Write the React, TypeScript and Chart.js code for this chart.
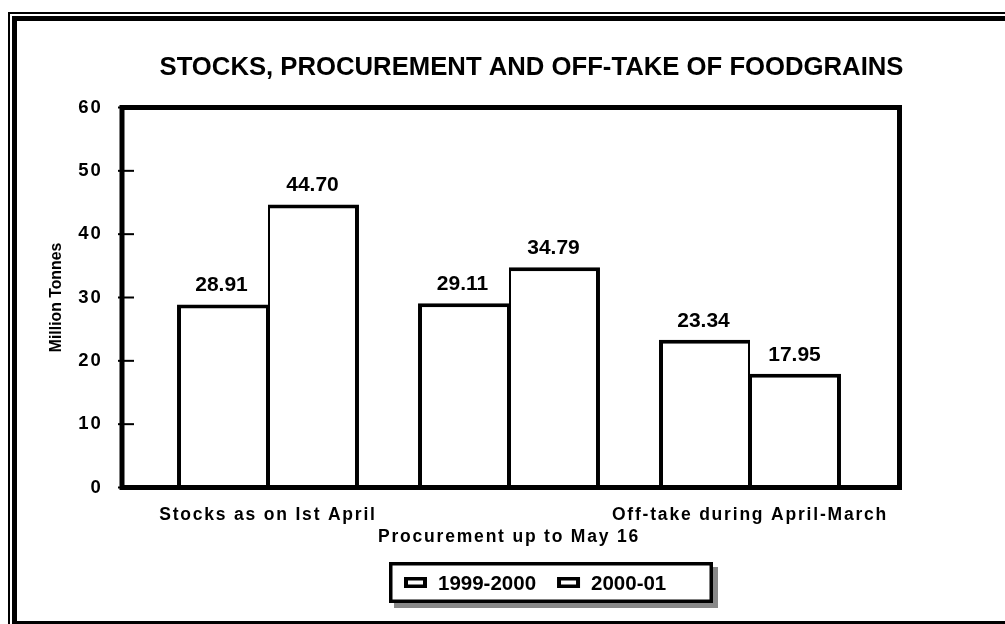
import React, { useEffect, useRef } from "react";
import { Chart, registerables } from "chart.js";

Chart.register(...registerables);

const TITLE = "STOCKS, PROCUREMENT AND OFF-TAKE OF FOODGRAINS";
const Y_TITLE = "Million Tonnes";
const CATEGORIES = [
  "Stocks as on Ist April",
  "Procurement up to May 16",
  "Off-take during April-March",
];
const SERIES_LABELS = ["1999-2000", "2000-01"];
const VALUES_1999 = [28.91, 29.11, 23.34];
const VALUES_2000 = [44.7, 34.79, 17.95];
const Y_MIN = 0;
const Y_MAX = 60;
const Y_STEP = 10;

const FONT = '"Liberation Sans", Arial, sans-serif';

const decorPlugin = {
  id: "decor",
  afterDatasetsDraw(chart: any) {
    const { ctx, chartArea: a } = chart;
    const yScale = chart.scales.y;
    const L = a.left - 25.5;
    const R = a.right + 29;
    const T = a.top;
    const B = a.bottom;
    ctx.save();
    ctx.strokeStyle = "#000";
    ctx.lineWidth = 5;
    ctx.lineJoin = "miter";
    ctx.strokeRect(L, T, R - L, B - T);
    ctx.lineWidth = 2;
    yScale.ticks.forEach((t: any) => {
      const py = yScale.getPixelForValue(t.value);
      ctx.beginPath();
      ctx.moveTo(L - 4, py);
      ctx.lineTo(L + 12, py);
      ctx.stroke();
    });
    ctx.restore();
    // spaced lettering for the axis tick labels drawn next
    ctx.letterSpacing = "1.8px";
  },
  afterDraw(chart: any) {
    const ctx = chart.ctx;
    ctx.letterSpacing = "0px";
    ctx.save();
    ctx.fillStyle = "#000";
    // Title
    ctx.font = `bold 25.7px ${FONT}`;
    ctx.textAlign = "center";
    ctx.textBaseline = "alphabetic";
    ctx.fillText(TITLE, 531.5, 75);

    // Data labels
    ctx.font = `bold 21px ${FONT}`;
    chart.data.datasets.forEach((ds: any, di: number) => {
      const meta = chart.getDatasetMeta(di);
      meta.data.forEach((el: any, i: number) => {
        const v = ds.data[i];
        ctx.fillText(Number(v).toFixed(2), el.x - 1, el.y - 13);
      });
    });

    // Legend
    const bx = 389, by = 562, bw = 324, bh = 41;
    ctx.fillStyle = "#888";
    ctx.fillRect(bx + 5, by + 5, bw, bh);
    ctx.fillStyle = "#fff";
    ctx.fillRect(bx, by, bw, bh);
    ctx.strokeStyle = "#000";
    ctx.lineWidth = 3.5;
    ctx.strokeRect(bx + 1.75, by + 1.75, bw - 3.5, bh - 3.5);

    ctx.font = `bold 20.5px ${FONT}`;
    ctx.textAlign = "left";
    let x = 404;
    chart.data.datasets.forEach((ds: any) => {
      ctx.fillStyle = "#000";
      ctx.fillRect(x, 577, 23, 11);
      ctx.fillStyle = "#fff";
      ctx.fillRect(x + 4, 580.5, 15, 4);
      ctx.fillStyle = "#000";
      const tx = x + 34;
      ctx.fillText(ds.label, tx, 589.5);
      x = tx + ctx.measureText(ds.label).width + 21;
    });
    ctx.restore();
  },
};

export default function App() {
  const canvasRef = useRef<HTMLCanvasElement | null>(null);

  useEffect(() => {
    const canvas = canvasRef.current;
    if (!canvas) return;
    const chart = new Chart(canvas, {
      type: "bar",
      data: {
        labels: CATEGORIES,
        datasets: [
          {
            label: SERIES_LABELS[0],
            data: VALUES_1999,
            backgroundColor: "#fff",
            borderColor: "#000",
            borderWidth: { left: 4, top: 4, right: 2, bottom: 0 },
            borderSkipped: false,
          },
          {
            label: SERIES_LABELS[1],
            data: VALUES_2000,
            backgroundColor: "#fff",
            borderColor: "#000",
            borderWidth: { left: 2, top: 4, right: 4, bottom: 0 },
            borderSkipped: false,
          },
        ],
      },
      options: {
        responsive: false,
        animation: false,
        devicePixelRatio: 1,
        categoryPercentage: 0.755,
        barPercentage: 1,
        layout: { padding: { left: 47.5, right: 134.5, top: 107.5, bottom: 56.5 } },
        plugins: {
          legend: { display: false },
          title: { display: false },
          tooltip: { enabled: false },
        },
        scales: {
          x: {
            offset: true,
            grid: { display: false, drawTicks: false },
            border: { display: false },
            ticks: {
              z: 1,
              autoSkip: false,
              maxRotation: 0,
              minRotation: 0,
              padding: 16,
              color: "#000",
              font: { family: FONT, size: 17.5, weight: "bold", lineHeight: 1.3 },
              callback: (_v: any, i: number) =>
                i % 2 === 1 ? ["", CATEGORIES[i]] : CATEGORIES[i],
            },
            afterFit: (s: any) => {
              s.height = 80;
            },
          },
          y: {
            min: Y_MIN,
            max: Y_MAX,
            grid: { display: false, drawTicks: false },
            border: { display: false },
            ticks: {
              z: 1,
              stepSize: Y_STEP,
              padding: 45,
              color: "#000",
              font: { family: FONT, size: 18.5, weight: "bold" },
            },
            title: {
              display: true,
              text: Y_TITLE,
              color: "#000",
              padding: 0,
              font: { family: FONT, size: 15.8, weight: "bold", lineHeight: 1.2 },
            },
            afterFit: (s: any) => {
              s.width = 100;
            },
          },
        },
      },
      plugins: [decorPlugin],
    } as any);
    return () => chart.destroy();
  }, []);

  return (
    <div
      style={{
        position: "absolute",
        left: 0,
        top: 0,
        width: 1005,
        height: 624,
        overflow: "hidden",
        background: "#fff",
      }}
    >
      <div
        style={{
          position: "absolute",
          left: 8,
          top: 12,
          width: 1040,
          height: 640,
          border: "2px solid #000",
          padding: 2,
          boxSizing: "border-box",
        }}
      >
        <div
          style={{
            width: "100%",
            height: 610,
            border: "5px solid #000",
            boxSizing: "border-box",
          }}
        />
      </div>
      <canvas
        ref={canvasRef}
        width={1005}
        height={624}
        style={{ position: "absolute", left: 0, top: 0, width: 1005, height: 624 }}
      />
    </div>
  );
}
